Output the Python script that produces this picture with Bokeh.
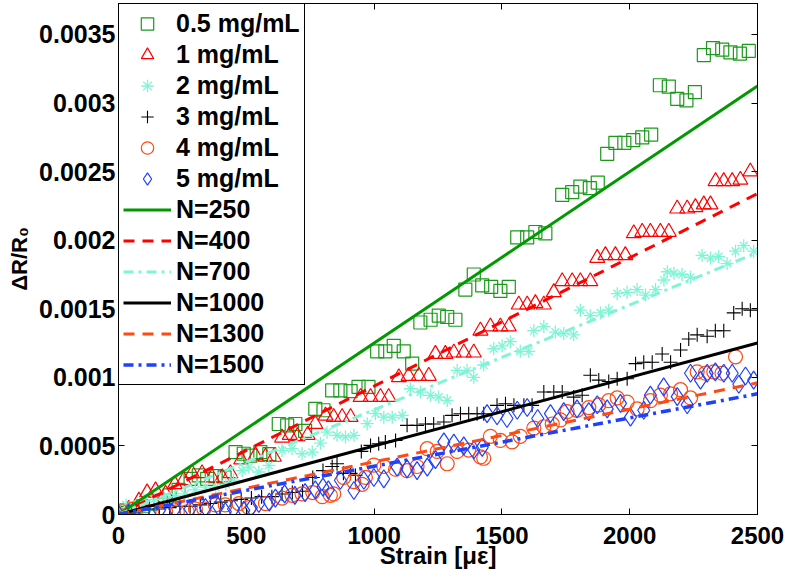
from bokeh.plotting import figure
from bokeh.models import FixedTicker, LinearAxis, Legend, LegendItem, Range1d
from bokeh.embed import file_html
from bokeh.resources import INLINE

# ---------------- data ----------------
x_05 = [0, 30, 60, 95, 130, 165, 200, 235, 282, 314, 347, 380, 415, 458, 490, 516, 555, 590,
        627, 660, 692, 730, 770, 802, 836, 868, 908, 939, 978, 1012, 1044, 1077, 1116, 1149,
        1181, 1221, 1253, 1286, 1318, 1357, 1390, 1423, 1458, 1494, 1527, 1560, 1599, 1631,
        1670, 1736, 1775, 1807, 1844, 1875, 1912, 1944, 1979, 2014, 2049, 2084, 2118, 2153,
        2186, 2222, 2255, 2290, 2326, 2362, 2394, 2431, 2466]
y_05 = [0.00001, 0.00003, 0.00004, 0.00006, 0.00008, 0.00010, 0.00014, 0.00018, 0.00026, 0.000285,
        0.00026, 0.00028, 0.00027, 0.000455, 0.000443, 0.00043, 0.000455, 0.00044,
        0.00066, 0.00065, 0.00066, 0.00061, 0.00077, 0.00076, 0.000905, 0.000905, 0.0009, 0.00093,
        0.00093, 0.00119, 0.00119, 0.00123, 0.00119, 0.0011,
        0.0014, 0.00142, 0.00145, 0.00144, 0.00142, 0.00164, 0.00175, 0.00167, 0.00166, 0.00163,
        0.00166, 0.00202, 0.00202, 0.00206, 0.00205, 0.00233, 0.00235, 0.00239, 0.00238, 0.00242,
        0.00263, 0.00271, 0.00271, 0.00273, 0.00275, 0.00277, 0.00313, 0.00312, 0.00303,
        0.00302, 0.00308, 0.00335, 0.0034, 0.00339, 0.00337, 0.00336, 0.00338]

x_1 = [0, 40, 80, 112, 145, 184, 220, 255, 288, 327, 366, 406, 438, 480, 536, 575, 608, 640, 670,
       700, 740, 770, 810, 842, 875, 908, 947, 986, 1025, 1057, 1097, 1135, 1175, 1214, 1240,
       1279, 1312, 1351, 1390, 1416, 1455, 1494, 1527, 1566, 1599, 1631, 1664, 1703, 1736, 1775,
       1807, 1846, 1873, 1905, 1944, 1983, 2016, 2049, 2081, 2120, 2153, 2186, 2225, 2257, 2290,
       2316, 2336, 2368, 2401, 2433, 2472]
y_1 = [0.0, 0.00004, 0.0001, 0.00016, 0.000175, 0.00015, 0.00022, 0.00025, 0.0003, 0.0003, 0.00027,
       0.00027, 0.0003, 0.0004, 0.00043, 0.00042, 0.00042, 0.00056, 0.00058, 0.00057, 0.00058,
       0.00066, 0.00072, 0.00071, 0.00071, 0.00071, 0.000856, 0.000856, 0.000856, 0.000856,
       0.001, 0.00101, 0.00101, 0.00101, 0.00117, 0.00117, 0.00118, 0.00118, 0.00118, 0.00134,
       0.00137, 0.00137, 0.00137, 0.00153, 0.00153, 0.00154, 0.00153, 0.00162, 0.0017, 0.0017,
       0.0017, 0.0017, 0.00187, 0.00189, 0.00189, 0.00189, 0.00205, 0.00206, 0.00206, 0.00206,
       0.00206, 0.00223, 0.00223, 0.00224, 0.00226, 0.00226, 0.00243, 0.00243, 0.00243, 0.00244,
       0.0025]

x_2 = [0, 30, 60, 100, 140, 180, 220, 260, 300, 340, 380, 420, 450, 484, 510, 549, 588, 640, 679,
       718, 758, 790, 816, 855, 888, 921, 973, 1005, 1038, 1071, 1110, 1142, 1181, 1221, 1253,
       1286, 1325, 1364, 1390, 1429, 1468, 1501, 1533, 1572, 1605, 1625, 1664, 1709, 1742, 1781,
       1807, 1846, 1886, 1918, 1951, 1990, 2029, 2062, 2101, 2134, 2147, 2173, 2205, 2238, 2283,
       2316, 2348, 2381, 2414, 2446, 2485]
y_2 = [0.00005, 0.00007, 0.00006, 0.0001, 0.00011, 0.00012, 0.00013, 0.00015, 0.00018, 0.0002,
       0.0002, 0.00022, 0.00025, 0.00032, 0.000345, 0.00031, 0.000358, 0.000467, 0.00048, 0.000443,
       0.000455, 0.00052, 0.0006, 0.000577, 0.000565, 0.000577, 0.000662, 0.000735, 0.00071,
       0.00071, 0.000723, 0.000917, 0.000893, 0.000869, 0.000856, 0.000832, 0.00105, 0.00105,
       0.001, 0.00109, 0.00121, 0.00123, 0.00126, 0.00119, 0.00119, 0.00134, 0.00137, 0.00133,
       0.00132, 0.00131, 0.00149, 0.00145, 0.00147, 0.00149, 0.00161, 0.00162, 0.00164, 0.0016,
       0.00164, 0.00171, 0.00177, 0.00176, 0.00175, 0.00173, 0.00189, 0.00187, 0.00188, 0.00183,
       0.00192, 0.00196, 0.00192]

x_3 = [0, 40, 80, 120, 160, 200, 240, 280, 320, 360, 400, 440, 480, 520, 560, 600, 640, 680, 720,
       760, 800, 836, 855, 880, 908, 927, 950, 986, 1018, 1044, 1084, 1129, 1168, 1201, 1233, 1273,
       1305, 1338, 1370, 1403, 1429, 1481, 1514, 1547, 1586, 1618, 1664, 1703, 1736, 1781, 1814,
       1846, 1879, 1918, 1951, 1990, 2023, 2055, 2088, 2127, 2160, 2199, 2231, 2264, 2303, 2335,
       2368, 2407, 2440, 2472]
y_3 = [0.0, 0.00002, 0.00003, 0.00004, 0.00004, 0.00005, 0.00006, 0.00006, 0.00007, 0.00008,
       0.00009, 0.0001, 0.00011, 0.00012, 0.00013, 0.00013, 0.00015, 0.00016, 0.00017, 0.00027,
       0.00032, 0.00035, 0.00037, 0.0003, 0.0003, 0.000285, 0.00046, 0.000504, 0.000516, 0.000528,
       0.00054, 0.00065, 0.00065, 0.00066, 0.00066, 0.000674, 0.000723, 0.000735, 0.000735,
       0.000735, 0.000735, 0.000796, 0.000808, 0.000796, 0.000796, 0.000796, 0.000893, 0.000893,
       0.000893, 0.000856, 0.000869, 0.001015, 0.00098, 0.00097, 0.00099, 0.00099, 0.0011,
       0.00111, 0.00111, 0.00117, 0.00111, 0.0012, 0.00128, 0.00131, 0.0013, 0.00134, 0.00134,
       0.00147, 0.0015, 0.00149]

x_4 = [0, 14, 54, 119, 184, 230, 269, 301, 334, 379, 418, 471, 510, 575, 640, 679, 718, 760, 797,
       829, 842, 881, 920, 953, 966, 999, 1038, 1084, 1129, 1168, 1208, 1247, 1286, 1325, 1370,
       1416, 1429, 1455, 1494, 1540, 1572, 1625, 1664, 1697, 1729, 1755, 1794, 1840, 1879, 1918,
       1951, 1990, 2029, 2081, 2120, 2160, 2199, 2238, 2264, 2296, 2329, 2361, 2414]
y_4 = [0.0, 0.00002, 0.00004, 0.00002, 0.00002, 0.00002, 0.00002, 0.00004, 0.00004, 0.00007,
       0.00007, 0.00008, 0.00005, 0.00008, 0.00012, 0.00014, 0.00015, 0.00016, 0.00013, 0.00014,
       0.00015, 0.00027, 0.00024, 0.00022, 0.00027, 0.00036, 0.00035, 0.00033, 0.00032, 0.00035,
       0.00048, 0.00046, 0.00037, 0.00046, 0.00047, 0.00042, 0.00041, 0.00057, 0.00054, 0.00053,
       0.00057, 0.00063, 0.00064, 0.00066, 0.00069, 0.00075, 0.00076, 0.00078, 0.0008, 0.00083,
       0.00085, 0.00082, 0.00077, 0.00083, 0.00087, 0.00088, 0.00091, 0.00085, 0.00104, 0.00103,
       0.00104, 0.00103, 0.00115]

x_5 = [0, 40, 100, 160, 220, 280, 340, 390, 418, 450, 490, 520, 549, 590, 614, 650, 690, 730, 770,
       800, 821, 868, 921, 960, 999, 1038, 1090, 1129, 1168, 1208, 1240, 1273, 1312, 1351, 1390,
       1423, 1442, 1481, 1520, 1560, 1599, 1640, 1690, 1742, 1794, 1840, 1873, 1912, 1964, 2003,
       2055, 2081, 2133, 2186, 2225, 2238, 2277, 2303, 2335, 2368, 2401, 2427, 2453, 2485]
y_5 = [0.0, 0.00001, 0.00002, 0.00003, 0.00004, 0.00004, 0.00005, 0.00006, 0.00002, 0.00004,
       0.00003, 0.00005, 0.00008, 0.00009, 0.00012, 0.00015, 0.00014, 0.00016, 0.00018, 0.0002,
       0.00018, 0.00025, 0.000175, 0.00025, 0.00027, 0.00026, 0.000345, 0.000333, 0.00032,
       0.000345, 0.0004, 0.00053, 0.00052, 0.0005, 0.00047, 0.00049, 0.000735, 0.00072, 0.0007,
       0.00076, 0.00078, 0.0007, 0.000735, 0.00075, 0.00077, 0.00075, 0.0008, 0.00077, 0.00081,
       0.00071, 0.00076, 0.00087, 0.00093, 0.00086, 0.0008, 0.00103, 0.00098, 0.00103, 0.00104,
       0.00103, 0.00103, 0.00095, 0.00101, 0.00098]

fit_x = [0, 2500]
fit_250 = [0, 0.003125]
fit_400 = [0, 0.00234]
fit_700 = [0, 0.00191]
fit_1000 = [0, 0.00125]
fit_1300 = [0, 0.00096]
fit_1500 = [0, 0.00088]

x_ticks = [0, 500, 1000, 1500, 2000, 2500]
y_ticks = [0, 0.0005, 0.001, 0.0015, 0.002, 0.0025, 0.003, 0.0035]
y_tick_labels = ["0", "0.0005", "0.001", "0.0015", "0.002", "0.0025", "0.003", "0.0035"]

# ---------------- styles ----------------
FONT = "Liberation Sans"
GREEN = "#1a9a1a"
RED = "#ff0000"
CYAN = "#7ff5d6"
BLACK = "#000000"
ORANGE = "#ff4a12"
BLUE = "#1e40ff"

p = figure(width=785, height=578, output_backend="svg", toolbar_location=None,
           x_range=Range1d(0, 2500), y_range=Range1d(0, 0.003726),
           min_border_left=118, min_border_right=28, min_border_top=3, min_border_bottom=64)
p.xgrid.visible = False
p.ygrid.visible = False
p.outline_line_color = "black"
p.outline_line_alpha = 1.0
p.outline_line_width = 1
p.background_fill_color = "white"
p.border_fill_color = "white"

def style_axis(ax, ticks, labels=None, show_labels=True, size="24px"):
    ax.ticker = FixedTicker(ticks=ticks)
    ax.major_tick_in = 6
    ax.major_tick_out = 0
    ax.minor_tick_line_color = None
    ax.axis_line_color = "black"
    ax.major_tick_line_color = "black"
    ax.major_label_text_font = FONT
    ax.major_label_text_font_style = "bold"
    ax.major_label_text_font_size = size
    ax.major_label_text_color = "black"
    if labels is not None:
        ax.major_label_overrides = {t: l for t, l in zip(ticks, labels)}
    if not show_labels:
        ax.major_label_overrides = {t: "" for t in ticks}
        ax.major_label_text_font_size = "1px"
        ax.major_label_standoff = 0

style_axis(p.xaxis[0], x_ticks, [str(t) for t in x_ticks], size="24px")
style_axis(p.yaxis[0], y_ticks, y_tick_labels, size="25px")
p.xaxis[0].major_label_standoff = 12
p.yaxis[0].major_label_standoff = 3
p.xaxis.axis_label = "Strain [με]"
p.yaxis.axis_label = "ΔR/R₀"
for ax in (p.xaxis[0], p.yaxis[0]):
    ax.axis_label_text_font = FONT
    ax.axis_label_text_font_style = "bold"
    ax.axis_label_text_font_size = "24px"
    ax.axis_label_text_color = "black"
p.yaxis[0].axis_label_text_font_size = "22px"
p.xaxis[0].axis_label_standoff = -5
p.yaxis[0].axis_label_standoff = 4

ax_r = LinearAxis()
style_axis(ax_r, y_ticks, show_labels=False)
p.add_layout(ax_r, "right")
ax_t = LinearAxis()
style_axis(ax_t, x_ticks, show_labels=False)
p.add_layout(ax_t, "above")

# ---------------- markers ----------------
r05 = p.scatter(x_05, y_05, marker="square", size=13, fill_color=None, line_color=GREEN, line_width=1.2)
r1 = p.scatter(x_1, y_1, marker="triangle", size=15, fill_color=None, line_color=RED, line_width=1.2)
r2a = p.scatter(x_2, y_2, marker="cross", size=13, line_color=CYAN, line_width=1.3)
r2b = p.scatter(x_2, y_2, marker="x", size=11, line_color=CYAN, line_width=1.3)
r3 = p.scatter(x_3, y_3, marker="cross", size=14, line_color=BLACK, line_width=1.1)
r4 = p.scatter(x_4, y_4, marker="circle", size=14, fill_color=None, line_color=ORANGE, line_width=1.2)
r5 = p.scatter(x_5, y_5, marker="diamond", size=18, fill_color=None, line_color=BLUE, line_width=1.2)

# ---------------- fitted lines ----------------
l250 = p.line(fit_x, fit_250, line_color="#009a00", line_width=3)
l400 = p.line(fit_x, fit_400, line_color=RED, line_width=3, line_dash="11 8")
l700 = p.line(fit_x, fit_700, line_color=CYAN, line_width=3, line_dash="10 5 3 5")
l1000 = p.line(fit_x, fit_1000, line_color=BLACK, line_width=3)
l1300 = p.line(fit_x, fit_1300, line_color=ORANGE, line_width=3, line_dash="11 8")
l1500 = p.line(fit_x, fit_1500, line_color=BLUE, line_width=3.5, line_dash="10 5 3 5")

items = [
    LegendItem(label="0.5 mg/mL", renderers=[r05]),
    LegendItem(label="1 mg/mL", renderers=[r1]),
    LegendItem(label="2 mg/mL", renderers=[r2a, r2b]),
    LegendItem(label="3 mg/mL", renderers=[r3]),
    LegendItem(label="4 mg/mL", renderers=[r4]),
    LegendItem(label="5 mg/mL", renderers=[r5]),
    LegendItem(label="N=250", renderers=[l250]),
    LegendItem(label="N=400", renderers=[l400]),
    LegendItem(label="N=700", renderers=[l700]),
    LegendItem(label="N=1000", renderers=[l1000]),
    LegendItem(label="N=1300", renderers=[l1300]),
    LegendItem(label="N=1500", renderers=[l1500]),
]
legend = Legend(items=items, location="top_left", margin=0, padding=4, spacing=0,
                glyph_width=48, glyph_height=31, label_height=31, label_standoff=5,
                label_text_font=FONT, label_text_font_style="bold", label_text_font_size="25px",
                label_text_color="black", border_line_color="black", border_line_width=1,
                border_line_alpha=1.0, background_fill_color="white", background_fill_alpha=1.0)
p.add_layout(legend)

open("out.html", "w").write(file_html(p, INLINE))
